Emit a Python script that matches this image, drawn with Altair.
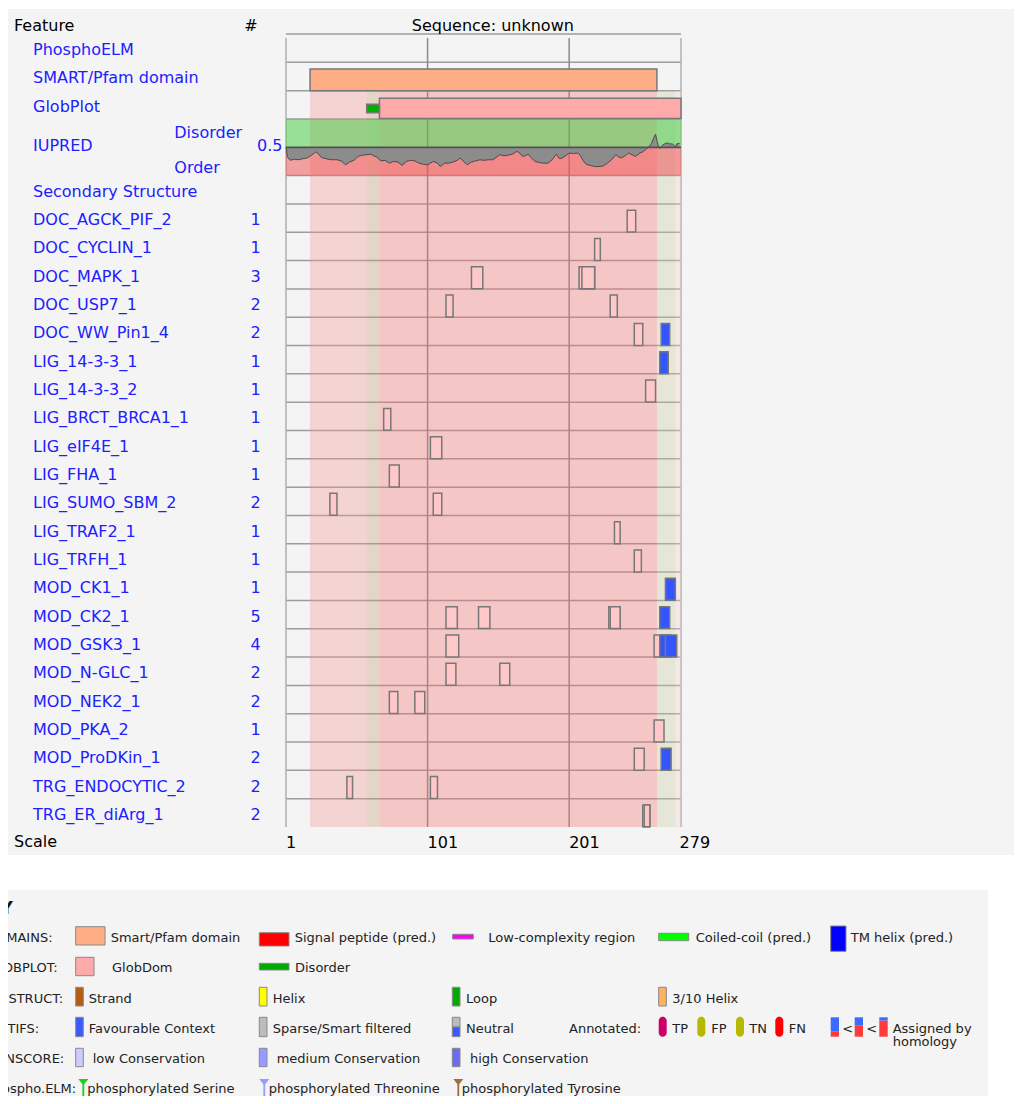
import altair as alt
import pandas as pd

# ============================ data ============================
SEQ_LEN = 279
TICK_VALUES = [1, 101, 201, 279]
GRID_POSITIONS = [101, 201]
SEQUENCE_TITLE = "Sequence: unknown"

TRACK_LABELS = ["PhosphoELM", "SMART/Pfam domain", "GlobPlot", "IUPRED", "Secondary Structure"]
IUPRED_SIDE_LABELS = ["Disorder", "Order"]

MOTIF_NAMES = ["DOC_AGCK_PIF_2", "DOC_CYCLIN_1", "DOC_MAPK_1", "DOC_USP7_1", "DOC_WW_Pin1_4",
               "LIG_14-3-3_1", "LIG_14-3-3_2", "LIG_BRCT_BRCA1_1", "LIG_eIF4E_1", "LIG_FHA_1",
               "LIG_SUMO_SBM_2", "LIG_TRAF2_1", "LIG_TRFH_1", "MOD_CK1_1", "MOD_CK2_1",
               "MOD_GSK3_1", "MOD_N-GLC_1", "MOD_NEK2_1", "MOD_PKA_2", "MOD_ProDKin_1",
               "TRG_ENDOCYTIC_2", "TRG_ER_diArg_1"]
MOTIF_COUNTS = [1, 1, 3, 2, 2, 1, 1, 1, 1, 1, 2, 1, 1, 1, 5, 4, 2, 2, 1, 2, 2, 2]

# (motif, first residue, last residue, context)
MOTIF_HITS = [
    ("DOC_AGCK_PIF_2", 242, 247, "neutral"),
    ("DOC_CYCLIN_1", 219, 222, "neutral"),
    ("DOC_MAPK_1", 132, 139, "neutral"),
    ("DOC_MAPK_1", 208, 218, "neutral"),
    ("DOC_MAPK_1", 210, 218, "neutral"),
    ("DOC_USP7_1", 114, 118, "neutral"),
    ("DOC_USP7_1", 230, 234, "neutral"),
    ("DOC_WW_Pin1_4", 247, 252, "neutral"),
    ("DOC_WW_Pin1_4", 266, 271, "favourable"),
    ("LIG_14-3-3_1", 265, 270, "favourable"),
    ("LIG_14-3-3_2", 255, 261, "neutral"),
    ("LIG_BRCT_BRCA1_1", 70, 74, "neutral"),
    ("LIG_eIF4E_1", 103, 110, "neutral"),
    ("LIG_FHA_1", 74, 80, "neutral"),
    ("LIG_SUMO_SBM_2", 32, 36, "neutral"),
    ("LIG_SUMO_SBM_2", 105, 110, "neutral"),
    ("LIG_TRAF2_1", 233, 236, "neutral"),
    ("LIG_TRFH_1", 247, 251, "neutral"),
    ("MOD_CK1_1", 269, 275, "favourable"),
    ("MOD_CK2_1", 114, 121, "neutral"),
    ("MOD_CK2_1", 137, 144, "neutral"),
    ("MOD_CK2_1", 229, 236, "neutral"),
    ("MOD_CK2_1", 230, 236, "neutral"),
    ("MOD_CK2_1", 265, 271, "favourable"),
    ("MOD_GSK3_1", 114, 122, "neutral"),
    ("MOD_GSK3_1", 261, 268, "neutral"),
    ("MOD_GSK3_1", 265, 272, "favourable"),
    ("MOD_GSK3_1", 269, 276, "favourable"),
    ("MOD_N-GLC_1", 114, 120, "neutral"),
    ("MOD_N-GLC_1", 152, 158, "neutral"),
    ("MOD_NEK2_1", 74, 79, "neutral"),
    ("MOD_NEK2_1", 92, 98, "neutral"),
    ("MOD_PKA_2", 261, 267, "neutral"),
    ("MOD_ProDKin_1", 247, 253, "neutral"),
    ("MOD_ProDKin_1", 266, 272, "favourable"),
    ("TRG_ENDOCYTIC_2", 44, 47, "neutral"),
    ("TRG_ENDOCYTIC_2", 103, 107, "neutral"),
    ("TRG_ER_diArg_1", 253, 257, "neutral"),
    ("TRG_ER_diArg_1", 254, 257, "neutral"),
]

SMART_DOMAIN = (18, 262)
GLOBPLOT_DISORDER = (58, 66)
GLOBPLOT_GLOBDOM = (67, 279)

# background shading of annotated regions (first, last, kind)
SHADE_REGIONS = [(18, 57, "domain"), (58, 66, "domain+disorder"), (67, 262, "domain+globdom"),
                 (263, 275, "disorder"), (276, 279, "globdom")]

IUPRED_POS = [1, 2, 4, 7, 10, 13, 16, 19, 22, 24, 26, 29, 33, 37, 40, 43, 46, 49, 52, 55,
              58, 61, 63, 65, 68, 71, 74, 77, 80, 83, 86, 89, 92, 95, 98, 101, 105, 108, 110, 113,
              116, 119, 122, 124, 127, 129, 132, 135, 138, 141, 144, 147, 150, 152, 155, 158, 161, 164, 166, 168,
              170, 172, 174, 177, 180, 183, 186, 189, 192, 194, 196, 199, 201, 204, 207, 209, 211, 213, 216, 219,
              222, 225, 228, 231, 234, 236, 238, 241, 243, 246, 248, 251, 253, 255, 257, 259, 261, 262, 263, 264,
              265, 267, 270, 272, 274, 276, 277, 279]
IUPRED_SCORE = [0.50, 0.33, 0.27, 0.29, 0.28, 0.30, 0.31, 0.36, 0.42, 0.38, 0.32, 0.30, 0.28, 0.28, 0.26, 0.19, 0.24, 0.27, 0.34, 0.36,
                0.37, 0.38, 0.35, 0.33, 0.26, 0.27, 0.22, 0.25, 0.24, 0.18, 0.25, 0.27, 0.26, 0.22, 0.20, 0.19, 0.25, 0.22, 0.16, 0.22,
                0.22, 0.24, 0.27, 0.31, 0.24, 0.19, 0.24, 0.26, 0.28, 0.27, 0.28, 0.28, 0.33, 0.37, 0.35, 0.36, 0.38, 0.43, 0.40, 0.34,
                0.35, 0.38, 0.32, 0.25, 0.23, 0.22, 0.22, 0.28, 0.38, 0.30, 0.31, 0.36, 0.40, 0.39, 0.40, 0.35, 0.26, 0.20, 0.18, 0.16,
                0.16, 0.17, 0.22, 0.28, 0.37, 0.33, 0.31, 0.36, 0.40, 0.36, 0.34, 0.40, 0.42, 0.46, 0.50, 0.56, 0.68, 0.73, 0.62, 0.52,
                0.48, 0.54, 0.58, 0.56, 0.56, 0.51, 0.56, 0.57]

# ---- key (legend) content ----
KEY_TITLE = "KEY"
KEY_ROW_LABELS = ["DOMAINS:", "GLOBPLOT:", "2D STRUCT:", "MOTIFS:", "CONSCORE:", "Phospho.ELM:"]
KEY_TEXTS = [  # (row, text)
    (0, "Smart/Pfam domain"), (0, "Signal peptide (pred.)"), (0, "Low-complexity region"),
    (0, "Coiled-coil (pred.)"), (0, "TM helix (pred.)"),
    (1, "GlobDom"), (1, "Disorder"),
    (2, "Strand"), (2, "Helix"), (2, "Loop"), (2, "3/10 Helix"),
    (3, "Favourable Context"), (3, "Sparse/Smart filtered"), (3, "Neutral"), (3, "Annotated:"),
    (3, "TP"), (3, "FP"), (3, "TN"), (3, "FN"), (3, "<"), (3, "<"), (3, "Assigned by"),
    (4, "low Conservation"), (4, "medium Conservation"), (4, "high Conservation"),
    (5, "phosphorylated Serine"), (5, "phosphorylated Threonine"), (5, "phosphorylated Tyrosine"),
]
KEY_EXTRA_TEXT = "homology"

# ============================ layout / style ============================
FONT = "DejaVu Sans"
BLUE_TXT = "#2020ff"
PX_LEFT, PX_TOP = 286, 34          # page position of the track area
PLOT_W, PLOT_H = 395, 793
CHART_W, CHART_H = 1006, 1088
N_UNITS = 6 + len(MOTIF_NAMES)      # row units (IUPRED spans two)


def vx(x):
    return x - PX_LEFT


def vy(y):
    return y - PX_TOP


xs = alt.Scale(domain=[1, SEQ_LEN + 1], nice=False, zero=False)
ys = alt.Scale(domain=[0, N_UNITS], reverse=True, nice=False, zero=False)


def XQ(f):
    return alt.X(f, type="quantitative", scale=xs, axis=None)


def YQ(f):
    return alt.Y(f, type="quantitative", scale=ys, axis=None)


def XP(f):
    return alt.X(f, type="quantitative", scale=None, axis=None)


def YP(f):
    return alt.Y(f, type="quantitative", scale=None, axis=None)


# ---- panels ----
df_panels = pd.DataFrame({"x0": [vx(8), vx(8)], "x1": [vx(8 + CHART_W), vx(988)],
                          "y0": [vy(9), vy(890)], "y1": [vy(855), vy(8 + CHART_H)]})
panels = alt.Chart(df_panels).mark_rect(color="#f4f4f4").encode(
    x=XP("x0"), x2="x1", y=YP("y0"), y2="y1")

# ---- row separators ----
bounds = [0, 1, 2, 3, 5] + list(range(6, N_UNITS))
df_h = pd.DataFrame({"b": bounds, "x0": 1, "x1": SEQ_LEN + 1})
hlines = alt.Chart(df_h).mark_rule(color="#9c9c9c", strokeWidth=1.5).encode(
    x=XQ("x0"), x2="x1", y=YQ("b"))

df_v = pd.DataFrame({"pos": [1] + GRID_POSITIONS + [SEQ_LEN + 1],
                     "kind": ["border"] + ["grid"] * len(GRID_POSITIONS) + ["border"],
                     "y0": 0.14, "y1": N_UNITS})
vlines = alt.Chart(df_v).mark_rule(strokeWidth=1.5).encode(
    x=XQ("pos"), y=YQ("y0"), y2="y1",
    color=alt.Color("kind:N", scale=alt.Scale(domain=["border", "grid"], range=["#b0b0b0", "#8c8c8c"]), legend=None))

# ---- scale (tick labels) ----
df_ticks = pd.DataFrame({"pos": TICK_VALUES, "lab": [str(v) for v in TICK_VALUES]})
ticks = alt.Chart(df_ticks).mark_text(align="left", baseline="alphabetic", fontSize=16, font=FONT,
                                      color="black").encode(
    x=XQ("pos"), y=alt.value(vy(848.3)), text="lab:N")

# ---- region shading ----
SHADE_KINDS = ["domain", "domain+disorder", "domain+globdom", "disorder", "globdom"]
SHADE_COLORS = ["#f49696", "#c69b71", "#f77171", "#c9c9a4", "#f4d2d2"]
df_shade = pd.DataFrame([{"start": s, "end": e + 1, "kind": k, "y0": 2, "y1": N_UNITS} for s, e, k in SHADE_REGIONS])
shade = alt.Chart(df_shade).mark_rect(opacity=0.35).encode(
    x=XQ("start"), x2="end", y=YQ("y0"), y2="y1",
    fill=alt.Fill("kind:N", scale=alt.Scale(domain=SHADE_KINDS, range=SHADE_COLORS), legend=None))

# ---- IUPRED ----
IU_TOP, IU_BOT = 3, 5
df_bands = pd.DataFrame({"band": ["Disorder", "Order"], "y0": [IU_TOP, 4], "y1": [4, IU_BOT],
                         "x0": 1, "x1": SEQ_LEN + 1})
bands = alt.Chart(df_bands).mark_rect(opacity=0.5).encode(
    x=XQ("x0"), x2="x1", y=YQ("y0"), y2="y1",
    fill=alt.Fill("band:N", scale=alt.Scale(domain=["Disorder", "Order"], range=["#3ccc3c", "#f24a4a"]), legend=None))

df_iu = pd.DataFrame({"pos": IUPRED_POS, "score": IUPRED_SCORE})
iu_area = alt.Chart(df_iu).transform_calculate(
    yy=f"{IU_BOT} - {IU_BOT - IU_TOP} * datum.score", mid="4"
).mark_area(color="#8c8c8c", opacity=1, line={"color": "#4a4a4a", "strokeWidth": 1}).encode(
    x=XQ("pos"), y=YQ("yy"), y2="mid:Q")

df_half = pd.DataFrame({"b": [4], "x0": [1], "x1": [SEQ_LEN + 1]})
half = alt.Chart(df_half).mark_rule(color="#505050", strokeWidth=1.8).encode(
    x=XQ("x0"), x2="x1", y=YQ("b"))

# ---- feature boxes ----
rows = []
rows.append({"start": SMART_DOMAIN[0], "end": SMART_DOMAIN[1] + 1, "top": 1.24, "bot": 2.0, "kind": "smart"})
rows.append({"start": GLOBPLOT_GLOBDOM[0], "end": GLOBPLOT_GLOBDOM[1] + 1, "top": 2.27, "bot": 2.98, "kind": "globdom"})
rows.append({"start": GLOBPLOT_DISORDER[0], "end": GLOBPLOT_DISORDER[1] + 1, "top": 2.48, "bot": 2.78, "kind": "gdisorder"})
for m, s, e, c in MOTIF_HITS:
    r = 6 + MOTIF_NAMES.index(m)
    rows.append({"start": s, "end": e + 1, "top": r + 0.22, "bot": r + 0.995, "kind": c})
df_boxes = pd.DataFrame(rows)
BOX_KINDS = ["smart", "globdom", "gdisorder", "neutral", "favourable"]
BOX_FILLS = ["#ffad85", "#ffaaaa", "#00b000", "#ffc8c8", "#3355ff"]
boxes = alt.Chart(df_boxes).mark_rect(stroke="#777777", strokeWidth=1.5).encode(
    x=XQ("start"), x2="end", y=YQ("top"), y2="bot",
    fill=alt.Fill("kind:N", scale=alt.Scale(domain=BOX_KINDS, range=BOX_FILLS), legend=None))

# ---- left-hand labels ----
TRACK_LABEL_Y = [0.5, 1.5, 2.5, 3.88, 5.5]
df_lab = pd.DataFrame({"label": TRACK_LABELS + MOTIF_NAMES,
                       "yu": TRACK_LABEL_Y + [6 + i + 0.5 for i in range(len(MOTIF_NAMES))]})
labels = alt.Chart(df_lab).mark_text(align="left", baseline="alphabetic", dy=7, fontSize=16,
                                     font=FONT, color=BLUE_TXT).encode(
    x=alt.value(vx(33)), y=YQ("yu"), text="label:N")

df_cnt = pd.DataFrame({"n": [str(c) for c in MOTIF_COUNTS],
                       "yu": [6 + i + 0.5 for i in range(len(MOTIF_NAMES))]})
counts = alt.Chart(df_cnt).mark_text(align="left", baseline="alphabetic", dy=7, fontSize=16,
                                     font=FONT, color=BLUE_TXT).encode(
    x=alt.value(vx(250.5)), y=YQ("yu"), text="n:N")

df_side = pd.DataFrame({"label": IUPRED_SIDE_LABELS, "yu": [3.42, 4.66]})
side = alt.Chart(df_side).mark_text(align="left", baseline="alphabetic", dy=7, fontSize=16,
                                    font=FONT, color=BLUE_TXT).encode(
    x=alt.value(vx(174.3)), y=YQ("yu"), text="label:N")

df_half_lab = pd.DataFrame({"label": ["0.5"], "yu": [3.9]})
half_lab = alt.Chart(df_half_lab).mark_text(align="right", baseline="alphabetic", dy=7, fontSize=16,
                                            font=FONT, color=BLUE_TXT).encode(
    x=alt.value(vx(282.5)), y=YQ("yu"), text="label:N")

df_head = pd.DataFrame({"t": ["Feature", "#", "Scale"],
                        "x": [vx(14), vx(244.3), vx(14)], "y": [vy(30.5), vy(30.5), vy(847)]})
head = alt.Chart(df_head).mark_text(align="left", baseline="alphabetic", fontSize=16, font=FONT,
                                    color="black").encode(x=XP("x"), y=YP("y"), text="t:N")

df_title = pd.DataFrame({"t": [SEQUENCE_TITLE], "x": [vx(492.8)], "y": [vy(30.5)]})
title = alt.Chart(df_title).mark_text(align="center", baseline="alphabetic", fontSize=16, font=FONT,
                                      color="black").encode(x=XP("x"), y=YP("y"), text="t:N")

# ============================ key ============================
KEY_BASE = [941.7, 972.0, 1002.7, 1032.7, 1062.7, 1093.0]
KEY_TEXT_X = [110.7, 294.7, 488.3, 695.7, 850.7,
              112.0, 295.0,
              88.7, 272.7, 466.0, 672.3,
              88.7, 272.7, 466.0, 569.0, 672.3, 711.3, 749.3, 788.7, 842.3, 866.3, 892.7,
              92.7, 276.7, 470.0,
              87.3, 268.7, 461.7]
df_kt = pd.DataFrame({"t": [t for _, t in KEY_TEXTS] + [KEY_EXTRA_TEXT],
                      "x": [vx(x) for x in KEY_TEXT_X] + [vx(892.7)],
                      "y": [vy(KEY_BASE[r]) for r, _ in KEY_TEXTS] + [vy(1045.7)]})
key_texts = alt.Chart(df_kt).mark_text(align="left", baseline="alphabetic", fontSize=13, font=FONT,
                                       color="#222222").encode(x=XP("x"), y=YP("y"), text="t:N")

df_kr = pd.DataFrame({"t": KEY_ROW_LABELS, "x": vx(-14), "y": [vy(b) for b in KEY_BASE]})
key_rows = alt.Chart(df_kr).mark_text(align="left", baseline="alphabetic", fontSize=13, font=FONT,
                                      color="#222222").encode(x=XP("x"), y=YP("y"), text="t:N")

df_kh = pd.DataFrame({"t": [KEY_TITLE], "x": [vx(12.7)], "y": [vy(913.5)]})
key_head = alt.Chart(df_kh).mark_text(align="right", baseline="alphabetic", fontSize=17, font=FONT,
                                      fontWeight="bold", color="#111111").encode(x=XP("x"), y=YP("y"), text="t:N")

# swatches: (x0, x1, y0, y1, key)  in page pixels
SW = [
    (75.7, 105.0, 926.7, 945.0, "smart"), (259.3, 289.0, 932.7, 946.0, "signal"),
    (452.7, 473.3, 934.3, 939.0, "lowc"), (658.7, 688.7, 933.3, 940.7, "coil"),
    (830.7, 846.0, 926.0, 951.3, "tm"),
    (75.7, 94.0, 957.3, 975.7, "globdom"), (259.3, 289.0, 963.3, 970.0, "gdis"),
    (75.7, 83.3, 987.3, 1006.0, "strand"), (259.3, 267.0, 987.3, 1006.0, "helix"),
    (452.3, 460.0, 987.3, 1006.0, "loop"), (658.7, 666.3, 987.3, 1006.0, "h310"),
    (75.7, 83.3, 1017.3, 1036.7, "fav"), (259.3, 267.0, 1017.3, 1036.7, "sparse"),
    (452.3, 460.0, 1017.3, 1027.0, "ntop"), (452.3, 460.0, 1027.0, 1036.7, "nbot"),
    (75.7, 83.3, 1048.3, 1066.7, "low"), (259.3, 267.0, 1048.3, 1066.7, "med"),
    (452.3, 460.0, 1048.3, 1066.7, "high"),
]
ELL = [(658.7, 666.7, "tp"), (697.3, 705.3, "fp"), (736.0, 744.0, "tn"), (775.3, 783.3, "fn")]
HOM = [(830.7, 839.0, 1031.7), (854.7, 863.0, 1025.7), (879.3, 887.7, 1020.7)]
TACKS = [(83.3, "ser"), (264.3, "thr"), (458.3, "tyr")]

KEY_COLORS = {
    "smart": "#ffad85", "signal": "#ff0000", "lowc": "#ff00ff", "coil": "#00ff00", "tm": "#0000ff",
    "globdom": "#ffaaaa", "gdis": "#00aa00", "strand": "#b85c10", "helix": "#ffff00", "loop": "#00aa00",
    "h310": "#ffb060", "fav": "#3a5cff", "sparse": "#bbbbbb", "ntop": "#bbbbbb", "nbot": "#3a5cff",
    "low": "#ccccff", "med": "#9999ff", "high": "#6b6bef",
    "tp": "#cc0066", "fp": "#b8b800", "tn": "#b8b800", "fn": "#ff0000",
    "hblue": "#3d6bff", "hred": "#ff3b3b",
    "ser": "#22cc22", "thr": "#9999ff", "tyr": "#a0703c",
}
kscale = alt.Scale(domain=list(KEY_COLORS.keys()), range=list(KEY_COLORS.values()))

df_sw = pd.DataFrame([{"x0": vx(a), "x1": vx(b), "y0": vy(c), "y1": vy(d), "key": k} for a, b, c, d, k in SW])
key_sw = alt.Chart(df_sw).mark_rect(stroke="#888888", strokeWidth=1).encode(
    x=XP("x0"), x2="x1", y=YP("y0"), y2="y1", fill=alt.Fill("key:N", scale=kscale, legend=None))

df_ell = pd.DataFrame([{"x0": vx(a), "x1": vx(b), "y0": vy(1016.7), "y1": vy(1036.7), "key": k} for a, b, k in ELL])
key_ell = alt.Chart(df_ell).mark_rect(cornerRadius=4).encode(
    x=XP("x0"), x2="x1", y=YP("y0"), y2="y1", fill=alt.Fill("key:N", scale=kscale, legend=None))

hom_rows = []
for a, b, split in HOM:
    hom_rows.append({"x0": vx(a), "x1": vx(b), "y0": vy(1017.3), "y1": vy(split), "key": "hblue"})
    hom_rows.append({"x0": vx(a), "x1": vx(b), "y0": vy(split), "y1": vy(1036.7), "key": "hred"})
df_hom = pd.DataFrame(hom_rows)
key_hom = alt.Chart(df_hom).mark_rect().encode(
    x=XP("x0"), x2="x1", y=YP("y0"), y2="y1", fill=alt.Fill("key:N", scale=kscale, legend=None))

TACK_SHAPE = "M-0.55,-1 L0.55,-1 L0.1,-0.4 L0.1,1 L-0.1,1 L-0.1,-0.4 Z"
df_tk = pd.DataFrame([{"x": vx(x), "y": vy(1088), "key": k} for x, k in TACKS])
key_tacks = alt.Chart(df_tk).mark_point(shape=TACK_SHAPE, filled=True, size=330, opacity=1, strokeWidth=0).encode(
    x=XP("x"), y=YP("y"), fill=alt.Fill("key:N", scale=kscale, legend=None))

chart = alt.layer(
    panels, hlines, vlines, shade, bands, iu_area, half, boxes, ticks,
    labels, counts, side, half_lab, head, title,
    key_sw, key_ell, key_hom, key_tacks, key_texts, key_rows, key_head,
).resolve_scale(
    color="independent", fill="independent"
).properties(
    width=PLOT_W, height=PLOT_H,
    padding={"left": PX_LEFT - 8, "top": PX_TOP - 8,
             "right": CHART_W - (PX_LEFT - 8) - PLOT_W, "bottom": CHART_H - (PX_TOP - 8) - PLOT_H},
    autosize=alt.AutoSizeParams(type="none"),
    background="white",
).configure_view(stroke=None)

chart.save("out.html", embed_options={"renderer": "svg", "actions": False})
